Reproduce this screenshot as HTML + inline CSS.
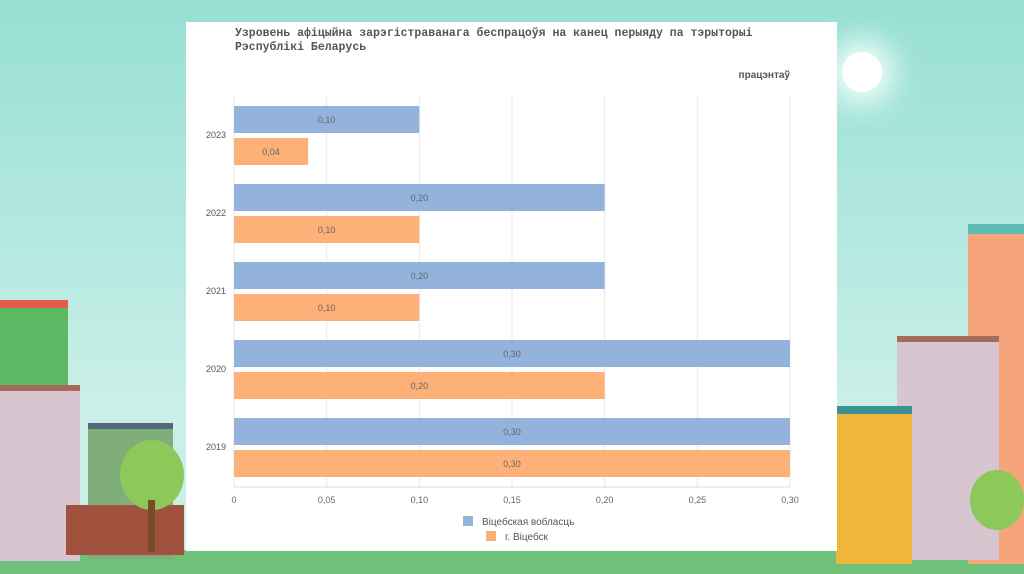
<!DOCTYPE html>
<html><head><meta charset="utf-8"><style>
body{margin:0;width:1024px;height:574px;overflow:hidden;background:linear-gradient(#96dfd3,#c9efe8 70%);font-family:"Liberation Sans",sans-serif;position:relative}
.b{position:absolute}
</style></head><body>
<div class="b" style="left:842px;top:52px;width:40px;height:40px;border-radius:50%;background:#fff;box-shadow:0 0 30px 12px #f4fffc"></div>
<div class="b" style="left:0;top:550px;width:1024px;height:24px;background:#6fc07a"></div>
<!-- left buildings -->
<div class="b" style="left:0;top:300px;width:68px;height:90px;background:#5cb862;border-top:8px solid #e35d4f"></div>
<div class="b" style="left:0;top:385px;width:80px;height:170px;background:#d7c5cf;border-top:6px solid #a46a57"></div>
<div class="b" style="left:88px;top:423px;width:85px;height:130px;background:#7fae7a;border-top:6px solid #567"></div>
<div class="b" style="left:66px;top:505px;width:118px;height:50px;background:#a0523f"></div>
<div class="b" style="left:120px;top:440px;width:64px;height:70px;border-radius:50%;background:#8cc85a"></div>
<div class="b" style="left:148px;top:500px;width:7px;height:52px;background:#7a4b2a"></div>
<!-- right buildings -->
<div class="b" style="left:968px;top:224px;width:56px;height:330px;background:#f6a57a;border-top:10px solid #5bbdb3"></div>
<div class="b" style="left:897px;top:336px;width:102px;height:218px;background:#d7c5cf;border-top:6px solid #a46a57"></div>
<div class="b" style="left:836px;top:406px;width:76px;height:150px;background:#f0b63b;border-top:8px solid #3f8f96"></div>
<div class="b" style="left:970px;top:470px;width:54px;height:60px;border-radius:50%;background:#8cc85a"></div>

<div class="b" style="left:186px;top:22px;width:651px;height:529px;background:#fff"></div>
<svg class="b" style="left:0;top:0" width="1024" height="574">
<text x="235" y="36" font-family="Liberation Mono,monospace" font-size="11.5" font-weight="bold" fill="#555">Узровень афіцыйна зарэгістраванага беспрацоўя на канец перыяду па тэрыторыі</text>
<text x="235" y="50" font-family="Liberation Mono,monospace" font-size="11.5" font-weight="bold" fill="#555">Рэспублікі Беларусь</text>
<text x="790" y="78" text-anchor="end" font-size="10" font-weight="bold" fill="#555">працэнтаў</text>
<g id="g"></g>
<rect x="463" y="516" width="10" height="10" fill="#93b3dc"/>
<text x="482" y="525" font-size="10" fill="#555">Віцебская вобласць</text>
<rect x="486" y="531" width="10" height="10" fill="#fdb077"/>
<text x="505" y="540" font-size="10" fill="#555">г. Віцебск</text>
</svg>
<script>
const years=["2023","2022","2021","2020","2019"];
const regionVals=[0.10,0.20,0.20,0.30,0.30];
const cityVals=[0.04,0.10,0.10,0.20,0.30];
const ticks=[0,0.05,0.10,0.15,0.20,0.25,0.30];
const X0=234,X1=790,MAX=0.30,TOP=96,PITCH=78;
const x=v=>X0+(X1-X0)*v/MAX;
const fmt=v=>v===0?"0":v.toFixed(2).replace(".",",");
const g=document.getElementById('g');const NS="http://www.w3.org/2000/svg";
function mk(t,a){const e=document.createElementNS(NS,t);for(const k in a)e.setAttribute(k,a[k]);g.appendChild(e);return e;}
ticks.forEach(t=>{
 const l=mk('line',{x1:x(t),x2:x(t),y1:TOP,y2:487,stroke:'#e8e8e8'});
 
 
 const tx=mk('text',{x:x(t),y:503,'text-anchor':'middle','font-size':9,fill:'#666'});tx.textContent=fmt(t);
 
 
});
const ax=mk('line',{x1:X0,x2:X1,y1:487,y2:487,stroke:'#ddd'});


years.forEach((y,i)=>{
 const yb=TOP+i*PITCH;
 const yl=mk('text',{x:226,y:yb+42,'text-anchor':'end','font-size':9,fill:'#555'});yl.textContent=y;
 
 
 [[regionVals[i],'#93b3dc',yb+10],[cityVals[i],'#fdb077',yb+42]].forEach(([v,c,yy],k)=>{
  const r=mk('rect',{x:X0,y:yy,width:x(v)-X0,height:27,fill:c});
  
  
  const t=mk('text',{x:(X0+x(v))/2,y:yy+17,'text-anchor':'middle','font-size':9,fill:'#666'});t.textContent=fmt(v);
  
  
 });
});
</script>
</body></html>
